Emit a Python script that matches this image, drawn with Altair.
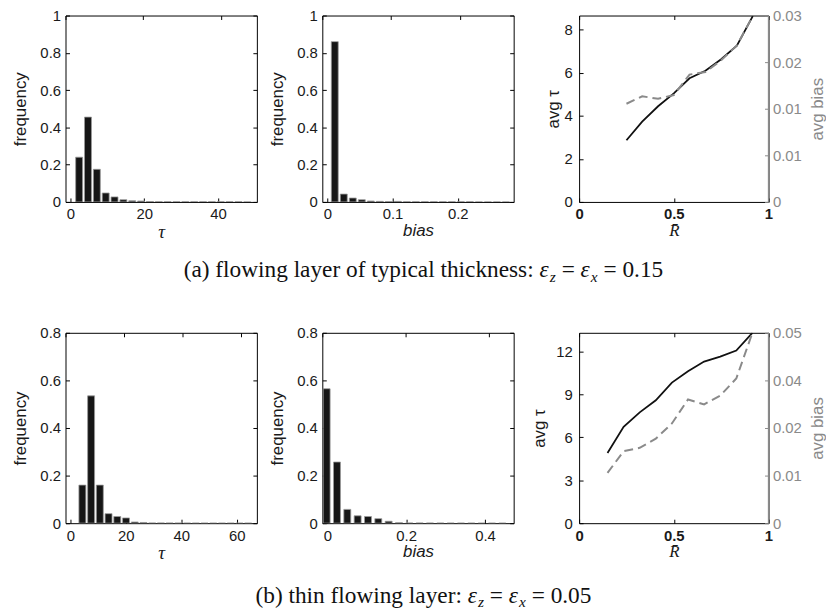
import altair as alt
import pandas as pd

SANS = "Liberation Sans"
SERIF = "Liberation Serif"

# ---------------- data ----------------
# (a) eps = 0.15
a_tau_centers = [2.35, 4.75, 7.15, 9.55, 11.95, 14.35, 16.75, 19.15, 21.55, 23.95,
                 26.35, 28.75, 31.15, 33.55, 35.95, 38.35, 40.75, 43.15, 45.55, 47.95]
a_tau_freq = [0.24, 0.455, 0.175, 0.048, 0.027, 0.012, 0.006, 0.005, 0.002, 0.001,
              0.001, 0.001, 0.0008, 0.0008, 0.0006, 0.0005, 0.0005, 0.0004, 0.0004, 0.0003]
a_bias_centers = [0.0115, 0.0253, 0.0391, 0.0529, 0.0667, 0.0805, 0.0943, 0.1081, 0.1219, 0.1357,
                  0.1495, 0.1633, 0.1771, 0.1909, 0.2047, 0.2185, 0.2323, 0.2461, 0.2599, 0.2737]
a_bias_freq = [0.86, 0.042, 0.021, 0.012, 0.005, 0.003, 0.002, 0.003, 0.001, 0.001,
               0.0008, 0.0006, 0.0005, 0.0005, 0.0004, 0.0004, 0.0003, 0.0003, 0.0003, 0.0003]
a_R = [0.25, 0.333, 0.417, 0.5, 0.583, 0.667, 0.75, 0.833, 0.917]
a_avg_tau = [2.86, 3.73, 4.44, 5.04, 5.74, 6.09, 6.62, 7.25, 8.62]
a_avg_bias = [0.0158, 0.0170, 0.0166, 0.0172, 0.0205, 0.0209, 0.0228, 0.0252, 0.0299]

# (b) eps = 0.05
b_tau_centers = [4.3, 7.45, 10.6, 13.75, 16.9, 20.05, 23.2, 26.35, 29.5, 32.65,
                 35.8, 38.95, 42.1, 45.25, 48.4, 51.55, 54.7, 57.85, 61.0, 64.15]
b_tau_freq = [0.16, 0.535, 0.16, 0.04, 0.028, 0.022, 0.005, 0.003, 0.001, 0.001,
              0.0008, 0.0006, 0.0005, 0.0004, 0.0004, 0.0003, 0.0003, 0.0003, 0.0003, 0.0003]
b_bias_centers = [-0.0016, 0.0246, 0.0508, 0.077, 0.1032, 0.1294, 0.1556, 0.1818, 0.208,
                  0.2342, 0.2604, 0.2866, 0.3128, 0.339, 0.3652, 0.3914, 0.4176, 0.4438]
b_bias_freq = [0.565, 0.257, 0.058, 0.031, 0.028, 0.019, 0.008, 0.002, 0.001,
               0.001, 0.0008, 0.0006, 0.0005, 0.0004, 0.0004, 0.0003, 0.0003, 0.0003]
b_R = [0.15, 0.235, 0.32, 0.405, 0.49, 0.575, 0.66, 0.745, 0.83, 0.915]
b_avg_tau = [4.9, 6.74, 7.74, 8.59, 9.82, 10.62, 11.29, 11.64, 12.06, 13.3]
b_avg_bias = [0.0132, 0.0189, 0.0198, 0.0222, 0.0262, 0.0325, 0.0312, 0.0335, 0.038, 0.050]

# axis domains / ticks / labels
a_tau_dom, a_tau_ticks = [0, 49.2], [0, 20, 40]
a_bias_dom, a_bias_ticks = [0, 0.278], [0, 0.1, 0.2]
a_freq_dom, a_freq_ticks = [0, 1], [0, 0.2, 0.4, 0.6, 0.8, 1]
a_avgtau_dom, a_avgtau_ticks = [0, 8.65], [0, 2, 4, 6, 8]
a_avgbias_dom = [0, 0.03]
a_avgbias_ticks = [0, 0.0075, 0.015, 0.0225, 0.03]
a_avgbias_labels = ["0", "0.01", "0.01", "0.02", "0.03"]

b_tau_dom, b_tau_ticks = [0, 65.5], [0, 20, 40, 60]
b_bias_dom, b_bias_ticks = [0, 0.46], [0, 0.2, 0.4]
b_freq_dom, b_freq_ticks = [0, 0.8], [0, 0.2, 0.4, 0.6, 0.8]
b_avgtau_dom, b_avgtau_ticks = [0, 13.3], [0, 3, 6, 9, 12]
b_avgbias_dom = [0, 0.05]
b_avgbias_ticks = [0, 0.0125, 0.025, 0.0375, 0.05]
b_avgbias_labels = ["0", "0.01", "0.02", "0.04", "0.05"]

R_dom, R_ticks = [0, 1], [0, 0.5, 1]

caption_a = [("(a) flowing layer of typical thickness: ", "normal", 0), ("ε", "italic", 0),
             ("z", "italic", 1), (" = ", "normal", 0), ("ε", "italic", 0), ("x", "italic", 1),
             (" = 0.15", "normal", 0)]
caption_b = [("(b) thin flowing layer: ", "normal", 0), ("ε", "italic", 0),
             ("z", "italic", 1), (" = ", "normal", 0), ("ε", "italic", 0), ("x", "italic", 1),
             (" = 0.05", "normal", 0)]

# ---------------- style ----------------
W1, W2, W3 = 193, 193, 191
HA, HB = 188, 192
TICK = 4
GREY = "#8a8a8a"
LBL = 15
CAP_SIZE = 23.5
SUB_SIZE = 15.5
CAP_CENTER = 425

TIMES_W = {" ": 250, "(": 333, ")": 333, ":": 278, "=": 564, ".": 250,
           "a": 444, "b": 500, "c": 444, "d": 500, "e": 444, "f": 333, "g": 500, "h": 500,
           "i": 278, "k": 500, "l": 278, "n": 500, "o": 500, "p": 500, "r": 333, "s": 389,
           "t": 278, "w": 722, "y": 500, "z": 444, "x": 500, "u": 500, "m": 778, "v": 500,
           "ε": 440}
TIMES_IT = {"z": 389, "x": 444, "ε": 440}


def text_w(s, size, italic):
    tot = 0
    for ch in s:
        if italic and ch in TIMES_IT:
            tot += TIMES_IT[ch]
        elif ch.isdigit():
            tot += 500
        else:
            tot += TIMES_W.get(ch, 500)
    return tot * size / 1000.0


def label_expr(values, labels):
    expr = "'" + labels[-1] + "'"
    for i in range(len(values) - 2, -1, -1):
        mid = (values[i] + values[i + 1]) / 2
        expr = f"datum.value < {mid} ? '{labels[i]}' : ({expr})"
    return expr


def axis(orient, values, show_labels=True, fmt=None, lexpr=None, title=None,
         title_font=SANS, title_style="normal", title_size=17, color="#000",
         label_color="#1a1a1a", label_pad=5, title_pad=8, bold=False, title_angle=None,
         title_color="#1a1a1a", title_baseline=None):
    kw = dict(orient=orient, values=values, offset=-TICK, tickSize=TICK, tickColor=color,
              tickWidth=1, domain=False, grid=False, labels=show_labels, labelFont=SANS,
              labelFontSize=LBL, labelColor=label_color, labelPadding=label_pad,
              labelFlush=False, labelOverlap=False, title=title, titleFont=title_font,
              titleFontSize=title_size, titleFontStyle=title_style,
              titleFontWeight="normal", titleColor=title_color, titlePadding=title_pad,
              labelFontWeight="bold" if bold else "normal")
    if fmt is not None:
        kw["format"] = fmt
    if lexpr is not None:
        kw["labelExpr"] = lexpr
    if title_angle is not None:
        kw["titleAngle"] = title_angle
    if title_baseline is not None:
        kw["titleBaseline"] = title_baseline
    return alt.Axis(**kw)


def hist_layers(centers, freqs, xdom, xticks, xfmt, ydom, yticks, xtitle, xfont, xstyle, xsize):
    df = pd.DataFrame({"c": centers, "f": freqs})
    xs = alt.Scale(domain=xdom, nice=False, zero=False)
    ys = alt.Scale(domain=ydom, nice=False, zero=False)
    bars = alt.Chart(df).mark_bar(orient="vertical", size=7, color="#161616", stroke="#9a9a9a",
                                  strokeWidth=0.8, clip=True).encode(
        x=alt.X("c:Q", scale=xs,
                axis=axis("bottom", xticks, fmt=xfmt, title=xtitle, title_font=xfont,
                          title_style=xstyle, title_size=xsize, title_pad=1)),
        y=alt.Y("f:Q", scale=ys,
                axis=axis("left", yticks, fmt=".1~f", title="frequency", title_pad=10)),
    )
    frame = alt.Chart(df).mark_point(opacity=0).encode(
        x=alt.X("c:Q", scale=xs, axis=axis("top", xticks, show_labels=False)),
        y=alt.Y("f:Q", scale=ys, axis=axis("right", yticks, show_labels=False)),
    )
    return [bars, frame]


def caption_layers(segments, center_x, base_y):
    rows_n, rows_i = [], []
    total = sum(text_w(t, SUB_SIZE if sub else CAP_SIZE, st == "italic") for t, st, sub in segments)
    cur = center_x - total / 2
    for t, st, sub in segments:
        size = SUB_SIZE if sub else CAP_SIZE
        lead = len(t) - len(t.lstrip(" "))
        x = cur + text_w(" " * lead, size, False)
        row = {"px": x, "py": base_y + (5 if sub else 0), "t": t.strip(), "s": size}
        (rows_i if st == "italic" else rows_n).append(row)
        cur += text_w(t, size, st == "italic")
    out = []
    for rows, style in ((rows_n, "normal"), (rows_i, "italic")):
        out.append(alt.Chart(pd.DataFrame(rows)).mark_text(
            align="left", baseline="alphabetic", font=SERIF, fontStyle=style, color="#111"
        ).encode(
            x=alt.X("px:Q", scale=None), y=alt.Y("py:Q", scale=None),
            text="t:N", size=alt.Size("s:Q", scale=None, legend=None)))
    return out


def line_panel(R, tau, bias, tdom, tticks, bdom, bticks, blabels, width, height, tpad):
    df = pd.DataFrame({"R": R, "tau": tau, "bias": bias})
    xs = alt.Scale(domain=R_dom, nice=False, zero=False)
    black = alt.Chart(df).mark_line(color="#111", strokeWidth=1.8, clip=True).encode(
        x=alt.X("R:Q", scale=xs,
                axis=axis("bottom", R_ticks, fmt=".1~f", title="R\u0304", title_font=SERIF,
                          title_style="italic", title_size=17, bold=True, title_pad=1)),
        y=alt.Y("tau:Q", scale=alt.Scale(domain=tdom, nice=False, zero=False),
                axis=axis("left", tticks, fmt="d", title="avg  τ", label_pad=7, title_pad=tpad)),
    )
    grey = alt.Chart(df).mark_line(color=GREY, strokeWidth=2, strokeDash=[9, 5], clip=True).encode(
        x=alt.X("R:Q", scale=xs, axis=axis("top", R_ticks, show_labels=False)),
        y=alt.Y("bias:Q", scale=alt.Scale(domain=bdom, nice=False, zero=False),
                axis=axis("right", bticks, lexpr=label_expr(bticks, blabels), title="avg  bias",
                          color=GREY, label_color=GREY, title_color=GREY, label_pad=4,
                          title_pad=8, title_angle=270, title_baseline="top")),
    )
    edge = alt.Chart(pd.DataFrame({"k": [0]})).mark_rule(color=GREY, strokeWidth=1.3).encode(
        x=alt.value(width), y=alt.value(0), y2=alt.value(height))
    return alt.layer(black, grey, edge).resolve_scale(x="independent", y="independent").properties(
        width=width, height=height)


def panels(h1, h2, ln, caption, cap_y, height):
    p1 = alt.layer(*h1).resolve_scale(x="independent", y="independent").properties(width=W1, height=height)
    cap = caption_layers(caption, CAP_CENTER - 323, cap_y)
    p2 = alt.layer(*h2, *cap).resolve_scale(x="independent", y="independent").properties(width=W2, height=height)
    return [p1, p2, ln]


row_a = panels(
    hist_layers(a_tau_centers, a_tau_freq, a_tau_dom, a_tau_ticks, "d", a_freq_dom, a_freq_ticks,
                "τ", SERIF, "italic", 19),
    hist_layers(a_bias_centers, a_bias_freq, a_bias_dom, a_bias_ticks, ".1~f", a_freq_dom, a_freq_ticks,
                "bias", SANS, "italic", 17),
    line_panel(a_R, a_avg_tau, a_avg_bias, a_avgtau_dom, a_avgtau_ticks, a_avgbias_dom,
               a_avgbias_ticks, a_avgbias_labels, W3, HA, 1),
    caption_a, 276 - 12, HA)

row_b = panels(
    hist_layers(b_tau_centers, b_tau_freq, b_tau_dom, b_tau_ticks, "d", b_freq_dom, b_freq_ticks,
                "τ", SERIF, "italic", 19),
    hist_layers(b_bias_centers, b_bias_freq, b_bias_dom, b_bias_ticks, ".1~f", b_freq_dom, b_freq_ticks,
                "bias", SANS, "italic", 17),
    line_panel(b_R, b_avg_tau, b_avg_bias, b_avgtau_dom, b_avgtau_ticks, b_avgbias_dom,
               b_avgbias_ticks, b_avgbias_labels, W3, HB, 7),
    caption_b, 604 - 332, HB)

chart = alt.concat(*row_a, *row_b, columns=3, spacing={"row": 132, "column": 66},
                   bounds="flush").properties(
    padding={"left": 3, "top": -3, "right": 0, "bottom": 0},
    background="white",
).configure_view(stroke="#000", strokeWidth=1)

chart.save("out.html", embed_options={"renderer": "svg", "actions": False})
